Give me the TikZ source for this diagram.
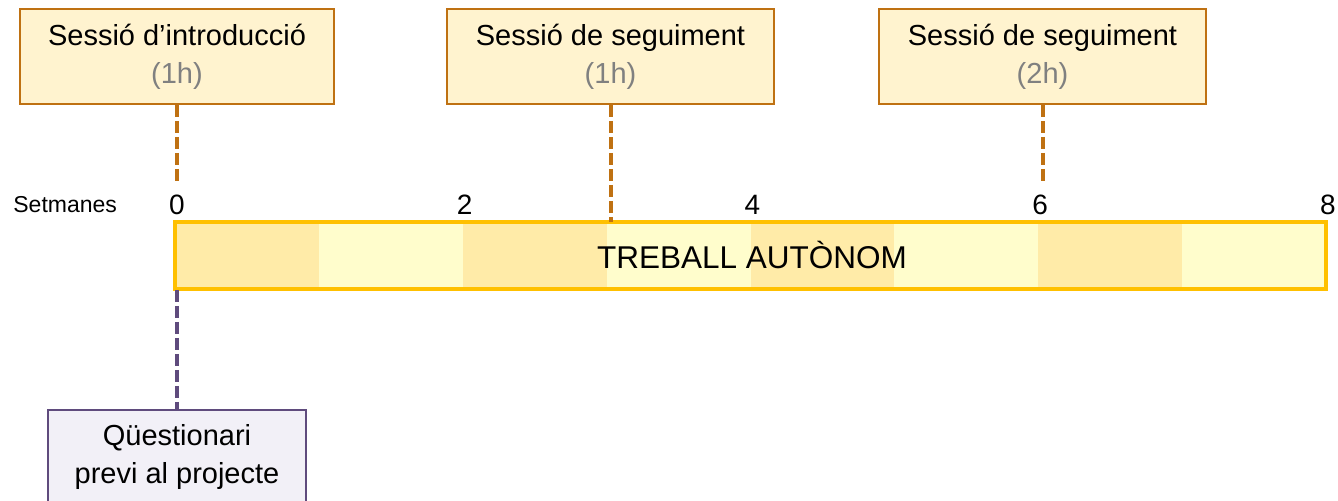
\documentclass[tikz,border=0pt]{standalone}
\usepackage{fontspec}
\setmainfont{Liberation Sans}
\usetikzlibrary{calc, positioning}

\definecolor{sessborder}{RGB}{191,113,18}
\definecolor{sessfill}{RGB}{255,243,207}
\definecolor{bargold}{RGB}{255,192,0}
\definecolor{segdark}{RGB}{255,235,168}
\definecolor{seglight}{RGB}{255,253,204}
\definecolor{quizborder}{RGB}{95,75,125}
\definecolor{quizfill}{RGB}{242,240,247}
\definecolor{hourgray}{RGB}{128,128,128}

\tikzset{
  session/.style={draw=sessborder, fill=sessfill, line width=1pt,
    minimum height=47.5pt, inner sep=0pt, align=center,
    font=\fontsize{14.5}{19}\selectfont},
  quiz/.style={draw=quizborder, fill=quizfill, line width=1pt,
    minimum height=47.5pt, minimum width=129pt, inner sep=0pt, align=center,
    font=\fontsize{14.5}{19}\selectfont},
  link/.style={dash pattern=on 6pt off 2pt, line width=2pt},
  weeklabel/.style={anchor=base, inner sep=0pt, font=\fontsize{14}{16}\selectfont},
}

\begin{document}
\begin{tikzpicture}[x=0.5pt, y=-0.5pt]
\def\barleft{175}
\def\barright{1326}
\def\bartop{222}
\def\barbot{289}
\def\boxmid{56.5}
\pgfmathsetmacro{\segw}{(\barright-\barleft)/8}

\useasboundingbox (0,0) rectangle (1338,501);
\clip (0,0) rectangle (1338,501);

% weekly segments of the bar
\foreach \i in {0,...,7}{
  \pgfmathsetmacro{\xa}{\barleft+\i*\segw}
  \ifodd\i \def\segcol{seglight}\else \def\segcol{segdark}\fi
  \fill[\segcol] (\xa,\bartop) rectangle ++(\segw,\barbot-\bartop);
}
\draw[bargold, line width=2pt] (\barleft,\bartop) rectangle (\barright,\barbot);
\node[anchor=base, inner sep=0pt, font=\fontsize{15.75}{18}\selectfont] (work)
  at (752,269) {TREBALL AUTÒNOM};

% week labels
\node[anchor=base west, inner sep=0pt, font=\fontsize{11.5}{14}\selectfont] (weeks)
  at (13,212.5) {Setmanes};
\foreach \i in {0,2,...,8}{
  \pgfmathsetmacro{\xa}{\barleft+2+\i*\segw}
  \node[weeklabel] (w\i) at (\xa,215) {\i};
}

% sessions
\node[session, minimum width=157pt] (intro) at (177,\boxmid)
  {Sessió d’introducció\\\textcolor{hourgray}{(1h)}};
\node[session, minimum width=163.5pt] (follow1) at (610.5,\boxmid)
  {Sessió de seguiment\\\textcolor{hourgray}{(1h)}};
\node[session, minimum width=163.5pt] (follow2) at (1042.5,\boxmid)
  {Sessió de seguiment\\\textcolor{hourgray}{(2h)}};

\coordinate (introend) at (177,181);
\coordinate (follow2end) at (1042.5,181);
\draw[link, sessborder] (intro.south) -- (introend);
\draw[link, sessborder] (follow1.south) -- (follow1.south |- 0,\bartop);
\draw[link, sessborder] (follow2.south) -- (follow2end);

% questionnaire
\node[quiz, anchor=north] (survey) at (177,409) {Qüestionari\\previ al projecte};
\draw[link, quizborder] (177,\barbot+1) coordinate (barfoot) -- (survey.north);
\end{tikzpicture}
\end{document}
